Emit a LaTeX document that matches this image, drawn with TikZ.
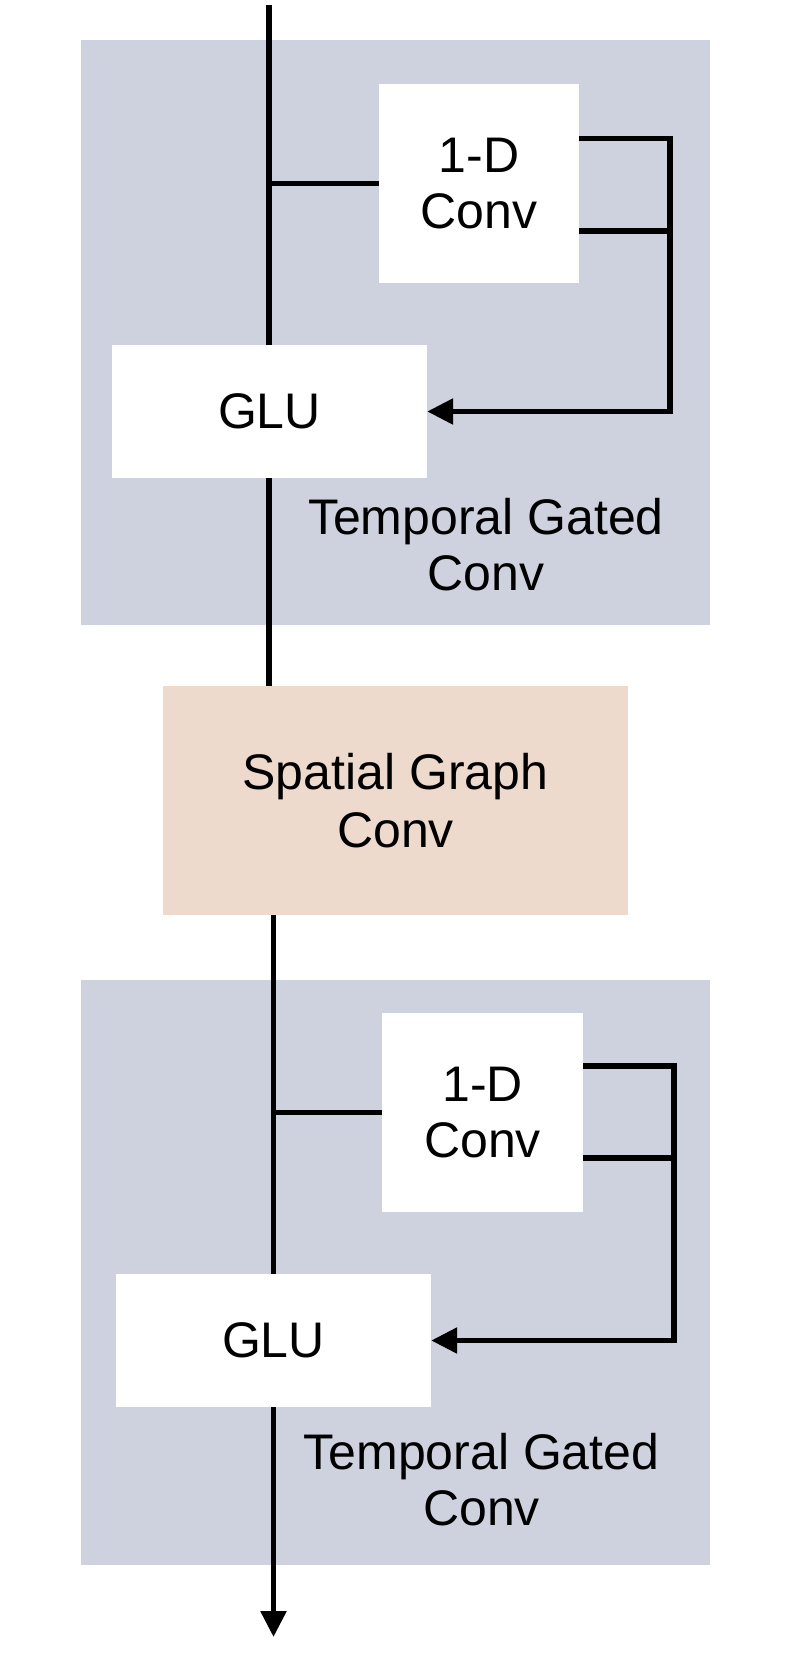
\documentclass[tikz,border=0pt]{standalone}
\usepackage{fontspec}
\setmainfont{Liberation Sans}
\usetikzlibrary{arrows.meta}
\definecolor{tgray}{HTML}{CED2DF}
\definecolor{speach}{HTML}{EED9CD}
\tikzset{
  blk/.style={rectangle, inner sep=0pt, draw=none, align=center,
    font=\fontsize{50}{56}\selectfont},
  grp/.style={blk, fill=tgray},
  wbox/.style={blk, fill=white},
  sbox/.style={blk, fill=speach, font=\fontsize{50}{58}\selectfont},
  lbl/.style={inner sep=0pt, align=center, font=\fontsize{50}{56}\selectfont},
  wire/.style={line width=5.5pt, black, line join=miter},
  arr/.style={wire, -{Triangle[width=25pt,length=26pt]}}
}
\begin{document}
\begin{tikzpicture}[x=1pt,y=-1pt]
\useasboundingbox[fill=white] (0,0) rectangle (795,1675);

% ---- top temporal gated conv ----
\node[grp, minimum width=629pt, minimum height=585pt] (g1) at (395.5,332.5) {};
\node[wbox, minimum width=200pt, minimum height=199pt] (c1) at (479,183.5) {1-D\\Conv};
\node[wbox, minimum width=315pt, minimum height=133pt] (glu1) at (269.5,411.5) {GLU};
\node[lbl] (t1) at (486,545) {Temporal Gated\\Conv};

% ---- spatial graph conv ----
\node[sbox, minimum width=465pt, minimum height=229pt] (sp) at (395.5,800.5) {Spatial Graph\\Conv};

% ---- bottom temporal gated conv ----
\node[grp, minimum width=629pt, minimum height=585pt] (g2) at (395.5,1272.5) {};
\node[wbox, minimum width=201pt, minimum height=199pt] (c2) at (482.5,1112.5) {1-D\\Conv};
\node[wbox, minimum width=315pt, minimum height=133pt] (glu2) at (273.5,1340.5) {GLU};
\node[lbl] (t2) at (481.5,1480) {Temporal Gated\\Conv};

% ---- coordinates ----
\coordinate (in) at (269,5);
\coordinate (a1) at (670,138.5);
\coordinate (b1) at (670,231);
\coordinate (e1) at (670,411.5);
\coordinate (a2) at (674,1066);
\coordinate (b2) at (674,1158);
\coordinate (e2) at (674,1340.5);
\coordinate (out) at (273.5,1637);

% ---- connectors top ----
\draw[wire] (in) -- (in |- glu1.north);
\draw[wire] (in |- c1.west) -- (c1.west);
\draw[arr] (c1.east |- a1) -- (a1) -- (e1) -- (glu1.east);
\draw[wire] (c1.east |- b1) -- (b1);
\draw[wire] (in |- glu1.south) -- (in |- sp.north);

% ---- connectors bottom ----
\draw[wire] (glu2.north |- sp.south) -- (glu2.north);
\draw[wire] (glu2.north |- c2.west) -- (c2.west);
\draw[arr] (c2.east |- a2) -- (a2) -- (e2) -- (glu2.east);
\draw[wire] (c2.east |- b2) -- (b2);
\draw[arr] (glu2.south) -- (out);
\end{tikzpicture}
\end{document}
